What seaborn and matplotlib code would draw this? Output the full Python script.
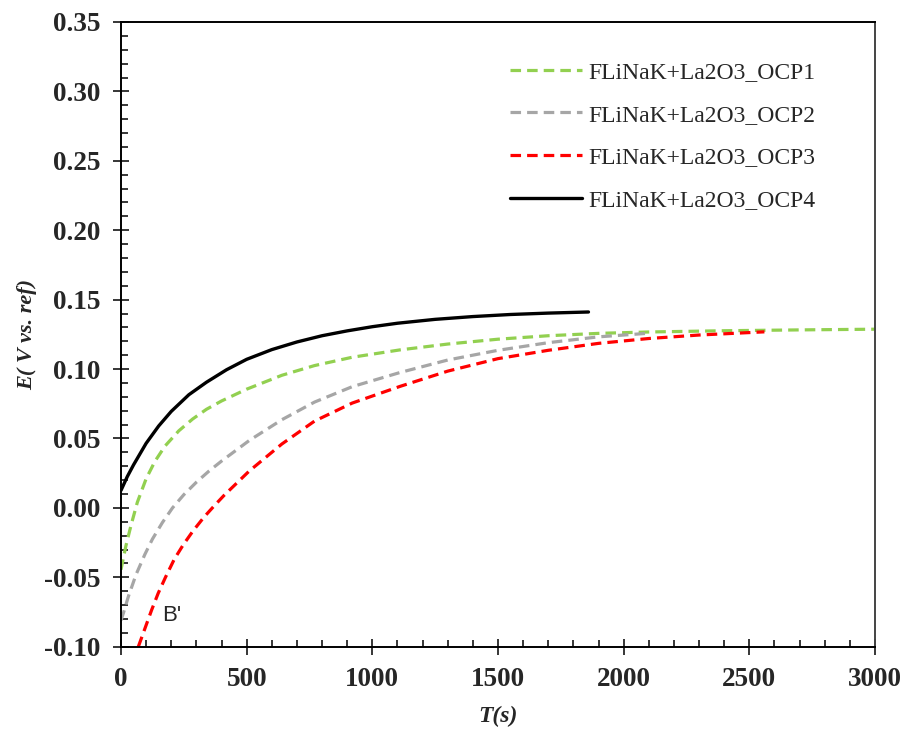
import matplotlib
matplotlib.use("Agg")
import matplotlib.pyplot as plt
from matplotlib.ticker import MultipleLocator
import pandas as pd
import seaborn as sns

# Open-circuit potential transients, FLiNaK + La2O3
labels = ["FLiNaK+La2O3_OCP1", "FLiNaK+La2O3_OCP2",
          "FLiNaK+La2O3_OCP3", "FLiNaK+La2O3_OCP4"]
colors = ["#92D050", "#A6A6A6", "#FF0000", "#000000"]

t_ocp1 = [0, 5, 20, 40, 65, 100, 135, 175, 230, 285, 340, 400, 500, 640,
          770, 920, 1110, 1300, 1500, 1700, 1900, 2100, 2400, 2700, 3000]
e_ocp1 = [-0.0445, -0.040, -0.027, -0.0125, 0.004, 0.021, 0.0335, 0.0445,
          0.0555, 0.064, 0.071, 0.077, 0.0855, 0.0955, 0.1025, 0.1085,
          0.1138, 0.118, 0.1215, 0.124, 0.1257, 0.1267, 0.1276, 0.1282,
          0.1287]

t_ocp2 = [0, 10, 30, 60, 95, 125, 165, 205, 250, 300, 350, 400, 510, 640,
          770, 920, 1110, 1300, 1500, 1700, 1900, 2100]
e_ocp2 = [-0.081, -0.0755, -0.0635, -0.048, -0.0335, -0.0225, -0.0105, 0.0,
          0.0095, 0.0185, 0.0265, 0.0337, 0.0485, 0.0635, 0.0762, 0.0873,
          0.0975, 0.1065, 0.1135, 0.119, 0.1232, 0.1258]

t_ocp3 = [69, 85, 102, 122, 148, 177, 212, 248, 287, 331, 371, 410, 510, 640,
          770, 920, 1110, 1300, 1500, 1700, 1900, 2100, 2300, 2560]
e_ocp3 = [-0.100, -0.092, -0.0835, -0.0735, -0.0615, -0.050, -0.037, -0.0265,
          -0.0165, -0.0065, 0.0015, 0.009, 0.0265, 0.046, 0.0625, 0.0755,
          0.0875, 0.0985, 0.1075, 0.1135, 0.1185, 0.122, 0.1245, 0.1268]

t_ocp4 = [0, 25, 50, 100, 150, 200, 270, 340, 420, 500, 600, 700, 800, 900,
          1000, 1100, 1250, 1400, 1550, 1700, 1860]
e_ocp4 = [0.0126, 0.0225, 0.031, 0.0465, 0.059, 0.0695, 0.0815, 0.0905,
          0.0995, 0.107, 0.114, 0.1195, 0.124, 0.1275, 0.1305, 0.133,
          0.1358, 0.1378, 0.1393, 0.1403, 0.1411]

x_ticks = [0, 500, 1000, 1500, 2000, 2500, 3000]
y_ticks = [-0.10, -0.05, 0.00, 0.05, 0.10, 0.15, 0.20, 0.25, 0.30, 0.35]

sns.set_style("ticks")
plt.rcParams["font.family"] = ["Liberation Serif", "DejaVu Serif"]

fig = plt.figure(figsize=(9.07, 7.30), dpi=100)
ax = fig.add_axes([0.1334, 0.1141, 0.8313, 0.8558])

series = [(t_ocp1, e_ocp1), (t_ocp2, e_ocp2), (t_ocp3, e_ocp3), (t_ocp4, e_ocp4)]
for i, ((t, e), lab, col) in enumerate(zip(series, labels, colors)):
    df = pd.DataFrame({"t": t, "E": e})
    if i < 3:
        sns.lineplot(data=df, x="t", y="E", ax=ax, color=col, lw=2.3,
                     linestyle=(0, (3.3, 1.9)), label=lab)
    else:
        sns.lineplot(data=df, x="t", y="E", ax=ax, color=col, lw=2.4,
                     linestyle="-", label=lab)

ax.set_xlim(0, 3000)
ax.set_ylim(-0.10, 0.35)
ax.set_xticks(x_ticks)
ax.set_yticks(y_ticks)
ax.set_xticklabels([f"{v:d}" for v in x_ticks])
ax.set_yticklabels([f"{v:.2f}" for v in y_ticks])
ax.xaxis.set_minor_locator(MultipleLocator(100))
ax.yaxis.set_minor_locator(MultipleLocator(0.01))

ax.tick_params(which="major", direction="inout", length=11, width=1.3,
               labelsize=19.5, top=False, right=False)
ax.tick_params(axis="x", which="major", pad=9)
ax.tick_params(axis="y", which="major", pad=9)
ax.tick_params(which="minor", direction="in", length=5, width=1.3,
               top=False, right=False)
for lbl in ax.get_xticklabels() + ax.get_yticklabels():
    lbl.set_fontweight("bold")

for side in ["left", "bottom", "top", "right"]:
    ax.spines[side].set_visible(True)
    ax.spines[side].set_linewidth(1.4)
    ax.spines[side].set_color("#000000")
ax.spines["right"].set_color("#444444")

ax.set_xlabel("T(s)", fontsize=17, fontweight="bold", fontstyle="italic",
              labelpad=10)
ax.set_ylabel("E( V vs. ref)", fontsize=16, fontweight="bold",
              fontstyle="italic", labelpad=5)

ax.text(200, -0.0775, "B'", fontsize=16, family="Liberation Sans",
        ha="center", va="center")

leg = ax.legend(loc="upper left", bbox_to_anchor=(0.516, 0.937),
                frameon=False, fontsize=17, handlelength=3.05,
                handletextpad=0.25, labelspacing=0.9, borderpad=0,
                borderaxespad=0)

fig.savefig("out.png", dpi=100)
